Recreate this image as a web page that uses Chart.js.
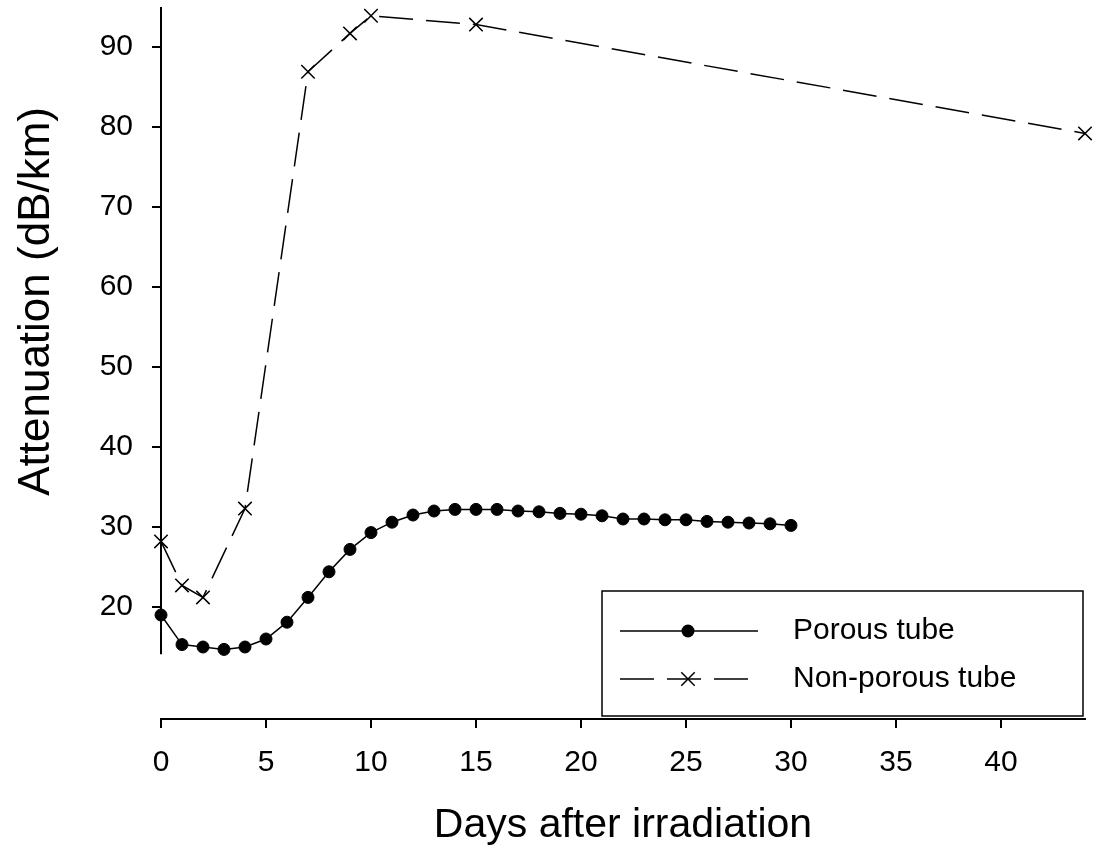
<!DOCTYPE html>
<html>
<head>
<meta charset="utf-8">
<script src="https://cdn.jsdelivr.net/npm/chart.js@4/dist/chart.umd.min.js"></script>
<style>
  html, body { margin: 0; padding: 0; background: #fff; }
  #wrap { width: 1106px; height: 848px; }
</style>
</head>
<body>
<div id="wrap"><canvas id="c" width="1106" height="848"></canvas></div>
<script>
// ---- data ----
const porousDays = [0, 1, 2, 3, 4, 5, 6, 7, 8, 9, 10, 11, 12, 13, 14, 15, 16, 17, 18, 19, 20, 21, 22, 23, 24, 25, 26, 27, 28, 29, 30];
const porousValues = [19.0, 15.3, 15.0, 14.7, 15.0, 16.0, 18.1, 21.2, 24.4, 27.2, 29.3, 30.6, 31.5, 32.0, 32.2, 32.2, 32.2, 32.0, 31.9, 31.7, 31.6, 31.4, 31.0, 31.0, 30.9, 30.9, 30.7, 30.6, 30.5, 30.4, 30.2];
const nonPorousDays = [0, 1, 2, 4, 7, 9, 10, 15, 44];
const nonPorousValues = [28.2, 22.7, 21.2, 32.3, 86.9, 91.7, 93.9, 92.8, 79.2];
const seriesLabels = ['Porous tube', 'Non-porous tube'];
const xTickValues = [0, 5, 10, 15, 20, 25, 30, 35, 40];
const yTickValues = [20, 30, 40, 50, 60, 70, 80, 90];
const xTitle = 'Days after irradiation';
const yTitle = 'Attenuation (dB/km)';
const xRange = [0, 44];
const yRange = [6, 95];
const yAxisLineRange = [14.1, 95];
const yTitleCenterValue = 58.2;

const FONT = '"Liberation Sans", Arial, Helvetica, sans-serif';

const toPoints = (xs, ys) => xs.map((x, i) => ({ x: x, y: ys[i] }));

const customDraw = {
  id: 'customDraw',
  beforeDatasetsDraw(chart) {
    const { ctx, chartArea, scales } = chart;
    const y = scales.y;
    ctx.save();
    ctx.strokeStyle = '#000';
    ctx.lineWidth = 2;
    ctx.beginPath();
    ctx.moveTo(chartArea.left, y.getPixelForValue(yAxisLineRange[1]));
    ctx.lineTo(chartArea.left, y.getPixelForValue(yAxisLineRange[0]));
    ctx.stroke();
    ctx.restore();
  },
  afterDraw(chart) {
    const { ctx, chartArea, scales } = chart;
    const y = scales.y;
    ctx.save();
    // y title
    ctx.translate(37, y.getPixelForValue(yTitleCenterValue));
    ctx.rotate(-Math.PI / 2);
    ctx.fillStyle = '#000';
    ctx.font = '44px ' + FONT;
    ctx.textAlign = 'center';
    ctx.textBaseline = 'middle';
    ctx.fillText(yTitle, 0, 0);
    ctx.restore();

    // legend
    const w = 481, h = 125;
    const left = chartArea.right - 2 - w;
    const top = chartArea.bottom - 3 - h;
    ctx.save();
    ctx.fillStyle = '#fff';
    ctx.fillRect(left, top, w, h);
    ctx.strokeStyle = '#000';
    ctx.lineWidth = 1.5;
    ctx.strokeRect(left, top, w, h);
    const rows = [top + 40, top + 88];
    const x0 = left + 18, x1 = left + 156, xm = left + 86;
    chart.data.datasets.forEach((ds, i) => {
      const ry = rows[i];
      ctx.save();
      ctx.strokeStyle = '#000';
      ctx.lineWidth = ds.borderWidth;
      ctx.setLineDash(ds.borderDash || []);
      ctx.beginPath();
      ctx.moveTo(x0, ry);
      ctx.lineTo(x1, ry);
      ctx.stroke();
      ctx.restore();
      ctx.save();
      ctx.fillStyle = '#000';
      ctx.strokeStyle = '#000';
      if (ds.pointStyle === 'circle') {
        ctx.beginPath();
        ctx.arc(xm, ry, ds.pointRadius + 0.5, 0, Math.PI * 2);
        ctx.fill();
      } else {
        const r = ds.pointRadius * Math.SQRT1_2;
        ctx.lineWidth = ds.pointBorderWidth;
        ctx.beginPath();
        ctx.moveTo(xm - r, ry - r); ctx.lineTo(xm + r, ry + r);
        ctx.moveTo(xm + r, ry - r); ctx.lineTo(xm - r, ry + r);
        ctx.stroke();
      }
      ctx.restore();
      ctx.fillStyle = '#000';
      ctx.font = '30px ' + FONT;
      ctx.textAlign = 'left';
      ctx.textBaseline = 'middle';
      ctx.fillText(ds.label, left + 191, ry);
    });
    ctx.restore();
  }
};

new Chart(document.getElementById('c'), {
  type: 'line',
  data: {
    datasets: [
      {
        label: seriesLabels[0],
        data: toPoints(porousDays, porousValues),
        borderColor: '#000',
        backgroundColor: '#000',
        borderWidth: 1.5,
        pointStyle: 'circle',
        pointRadius: 6,
        pointBorderWidth: 1,
        pointBackgroundColor: '#000',
        pointBorderColor: '#000',
        tension: 0,
        fill: false,
        clip: false
      },
      {
        label: seriesLabels[1],
        data: toPoints(nonPorousDays, nonPorousValues),
        borderColor: '#000',
        backgroundColor: '#000',
        borderWidth: 1.5,
        borderDash: [34, 13],
        pointStyle: 'crossRot',
        pointRadius: 9.5,
        pointBorderWidth: 1.5,
        pointBorderColor: '#000',
        tension: 0,
        fill: false,
        clip: false
      }
    ]
  },
  options: {
    responsive: false,
    animation: false,
    devicePixelRatio: 1,
    layout: { autoPadding: false, padding: { top: 7, right: 21, bottom: 0, left: 0 } },
    plugins: {
      legend: { display: false },
      tooltip: { enabled: false },
      title: { display: false }
    },
    scales: {
      x: {
        type: 'linear',
        position: 'bottom',
        min: xRange[0],
        max: xRange[1],
        afterBuildTicks: (s) => { s.ticks = xTickValues.map(v => ({ value: v })); },
        afterFit: (s) => { s.height = 129; s.paddingLeft = 0; s.paddingRight = 0; },
        border: { display: true, color: '#000', width: 2 },
        grid: { display: true, drawOnChartArea: false, drawTicks: true, tickLength: 9, color: '#000', lineWidth: 2 },
        ticks: { color: '#000', font: { family: FONT, size: 30 }, padding: 17, maxRotation: 0, autoSkip: false },
        title: { display: true, text: xTitle, color: '#000', font: { family: FONT, size: 41, lineHeight: 1 }, padding: { top: 0, bottom: 2 } }
      },
      y: {
        type: 'linear',
        position: 'left',
        min: yRange[0],
        max: yRange[1],
        afterBuildTicks: (s) => { s.ticks = yTickValues.map(v => ({ value: v })); },
        afterFit: (s) => { s.width = 161; s.paddingTop = 0; s.paddingBottom = 0; },
        border: { display: false },
        grid: { display: true, drawOnChartArea: false, drawTicks: true, tickLength: 9, color: '#000', lineWidth: 2 },
        ticks: { color: '#000', font: { family: FONT, size: 30 }, padding: 19, autoSkip: false },
        title: { display: false }
      }
    }
  },
  plugins: [customDraw]
});
</script>
</body>
</html>
